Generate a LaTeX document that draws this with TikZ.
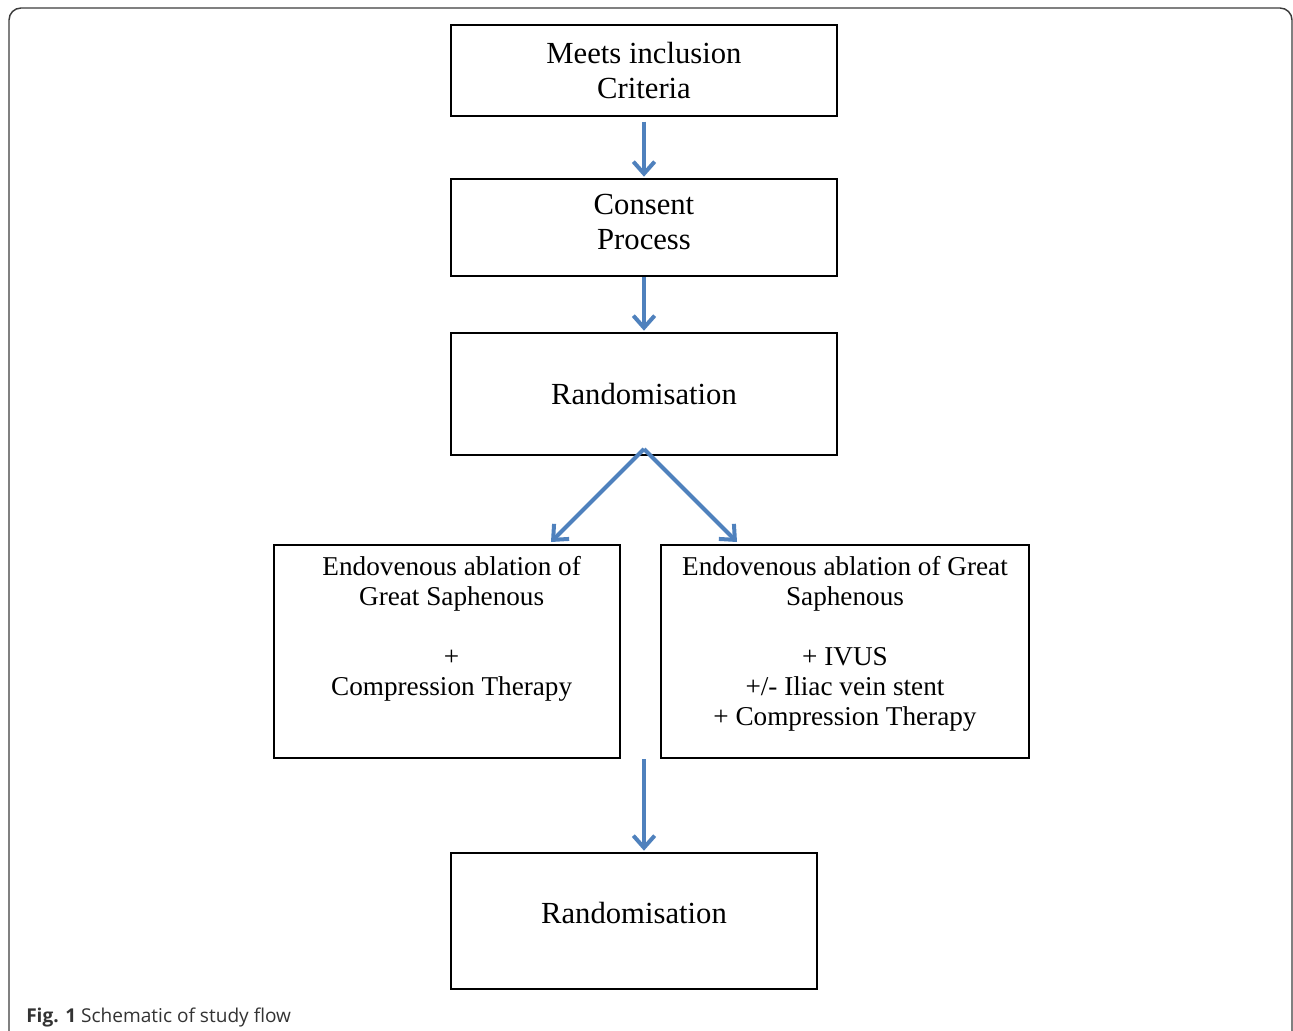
\documentclass[tikz,border=0pt]{standalone}
\usepackage{fontspec}
\setmainfont{Liberation Serif}
\newfontfamily\capfont{Open Sans}
\usetikzlibrary{arrows.meta}
\definecolor{arrblue}{RGB}{79,129,189}
\definecolor{framegray}{RGB}{60,60,60}
\begin{document}
\begin{tikzpicture}[x=0.75pt,y=-0.75pt,>={Straight Barb[length=9pt,width=16pt]},
	box/.style={draw,line width=1.5pt,inner sep=0pt,align=center,font=\fontsize{23}{26}\selectfont},
	armbox/.style={draw,line width=1.5pt,inner sep=0pt,font=\fontsize{20.4}{22.5}\selectfont},
	arr/.style={->,arrblue,line width=3pt}]
				\useasboundingbox (0,0) rectangle (1293,1031);
				\draw[framegray,line width=1.1pt,rounded corners=9pt](9,1031)--(9,8)--(1292,8)--(1292,1031);
				\node[box,minimum width=289.5pt,minimum height=68.25pt] (meets) at (644,70.5) {Meets inclusion\\Criteria};
				\node[box,minimum width=289.5pt,minimum height=72.75pt,text depth=8.5pt] (consent) at (644,227.5) {Consent\\Process};
				\node[box,minimum width=289.5pt,minimum height=91.5pt] (rand) at (644,394) {Randomisation};
				\node[armbox] (left) at (447,651.5) {\parbox[c][159.75pt][t]{259.5pt}{\centering\vspace*{8.5pt}\hspace*{7pt}Endovenous ablation of\\\hspace*{7pt}Great Saphenous\\[22.5pt]\hspace*{7pt}+\\\hspace*{7pt}Compression Therapy}};
				\node[armbox] (right) at (845,651.5) {\parbox[c][159.75pt][t]{276pt}{\centering\vspace*{8.5pt}Endovenous ablation of Great\\Saphenous\\[22.5pt]+ IVUS\\+/- Iliac vein stent\\+ Compression Therapy}};
				\node[box,minimum width=274.5pt,minimum height=102pt,text depth=12.5pt] (final) at (634,921) {Randomisation};
				\draw[arr,shorten <=3.5pt,shorten >=1pt](meets)--(consent);
				\draw[arr,shorten >=1pt](consent)--(rand);
				\draw[arr]([yshift=5.25pt]rand.south)--([xshift=-52.5pt,yshift=1.5pt]left.north east);
				\draw[arr]([yshift=5.25pt]rand.south)--([xshift=57.75pt,yshift=1.5pt]right.north west);
				\draw[arr,shorten >=1pt](rand.south |- left.south)--(rand.south |- final.north);
				\node[anchor=base west,inner sep=0pt,font=\capfont\fontsize{14.3}{17}\selectfont,text=black!80] (cap) at (26,1022) {\textbf{Fig. 1} Schematic of study flow};
			\end{tikzpicture}
\end{document}
